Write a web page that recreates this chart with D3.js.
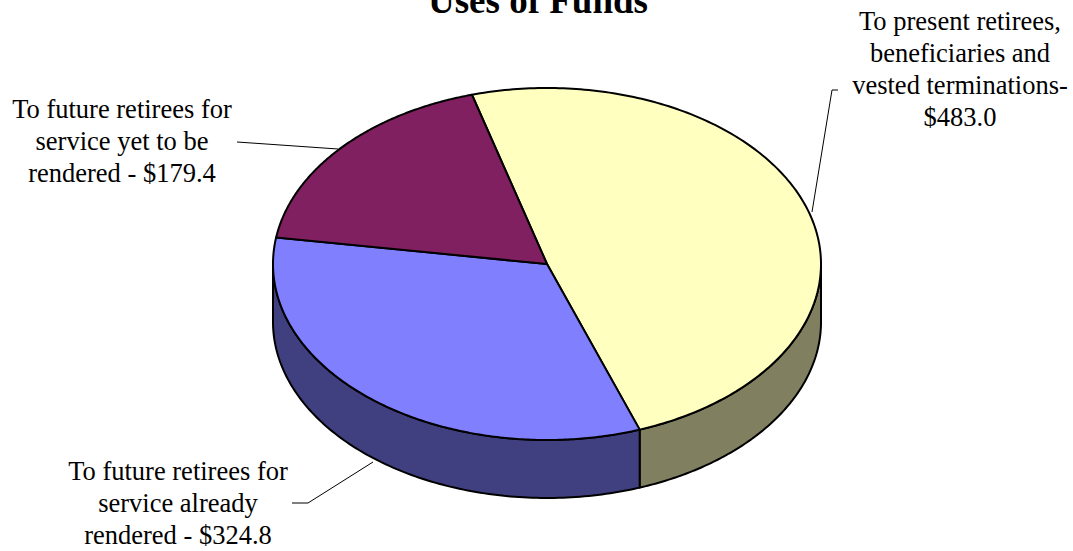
<!DOCTYPE html>
<html>
<head>
<meta charset="utf-8">
<script src="https://cdn.jsdelivr.net/npm/d3@7"></script>
<style>
html,body{margin:0;padding:0;background:#fff;}
svg{display:block;}
text{font-family:"Liberation Serif","Times New Roman",serif;fill:#000;}
</style>
</head>
<body>
<svg id="chart" width="1073" height="551"></svg>
<script>
const title = "Uses of Funds";
const categories = [
  "To present retirees, beneficiaries and vested terminations",
  "To future retirees for service already rendered",
  "To future retirees for service yet to be rendered"
];
const values = [483.0, 324.8, 179.4];
const labelLines = [
  ["To present retirees,", "beneficiaries and", "vested terminations-", "$483.0"],
  ["To future retirees for", "service already", "rendered - $324.8"],
  ["To future retirees for", "service yet to be", "rendered - $179.4"]
];
const topColors = ["#FFFFC0", "#8080FF", "#802060"];
const sideColors = ["#808060", "#404080", "#401030"];

const svg = d3.select("#chart");
const W = 1073, H = 551;
const cx = 547, cy = 264, rx = 274, ry = 176, depth = 58;
const startDeg = -15.9;

const pie = d3.pie().sort(null)
  .startAngle(startDeg * Math.PI / 180)
  .endAngle(startDeg * Math.PI / 180 + 2 * Math.PI);
const arcs = pie(values);

const px = a => cx + rx * Math.sin(a);
const py = a => cy - ry * Math.cos(a);
const line = d3.line();

function sample(a0, a1, n) {
  const pts = [];
  for (let i = 0; i <= n; i++) {
    const a = a0 + (a1 - a0) * i / n;
    pts.push([px(a), py(a)]);
  }
  return pts;
}

// side walls
const sides = svg.append("g");
arcs.forEach((d, i) => {
  for (let k = -1; k <= 1; k++) {
    const off = k * 2 * Math.PI;
    const lo = Math.max(d.startAngle, Math.PI / 2 + off);
    const hi = Math.min(d.endAngle, 3 * Math.PI / 2 + off);
    if (lo < hi) {
      const top = sample(lo, hi, 120);
      const bot = top.slice().reverse().map(p => [p[0], p[1] + depth]);
      sides.append("path")
        .attr("d", line(top.concat(bot)) + "Z")
        .attr("fill", sideColors[i])
        .attr("stroke", "#000")
        .attr("stroke-width", 2)
        .attr("stroke-linejoin", "round");
    }
  }
});

// top faces
const tops = svg.append("g");
arcs.forEach((d, i) => {
  const pts = [[cx, cy]].concat(sample(d.startAngle, d.endAngle, 200));
  tops.append("path")
    .attr("d", line(pts) + "Z")
    .attr("fill", topColors[i])
    .attr("stroke", "#000")
    .attr("stroke-width", 2)
    .attr("stroke-linejoin", "round");
});

// title
svg.append("text")
  .attr("x", 538).attr("y", 13)
  .attr("text-anchor", "middle")
  .attr("font-size", 37).attr("font-weight", "bold")
  .text(title);

// labels
const labelPos = [
  {x: 960, y: 30},
  {x: 178, y: 480},
  {x: 122, y: 118}
];
const leaders = [
  [[838, 90], [832, 90], [812, 212]],
  [[292, 503], [308, 503], [373, 462]],
  [[237, 142], [338, 149]]
];
const lh = 32;
labelLines.forEach((lines, i) => {
  const t = svg.append("text")
    .attr("text-anchor", "middle")
    .attr("font-size", 26.5);
  lines.forEach((s, j) => {
    t.append("tspan").attr("x", labelPos[i].x).attr("y", labelPos[i].y + j * lh).text(s);
  });
  svg.append("path")
    .attr("d", line(leaders[i]))
    .attr("fill", "none")
    .attr("stroke", "#000")
    .attr("stroke-width", 1);
});
</script>
</body>
</html>
